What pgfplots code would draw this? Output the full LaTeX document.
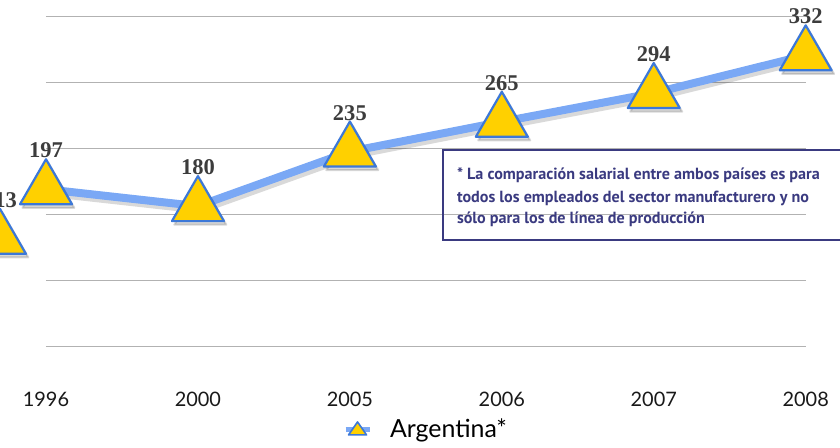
\documentclass[border=0pt]{standalone}
\usepackage{pgfplots}
\pgfplotsset{compat=1.18}
\usepackage{fontspec}
\setmainfont{Lato}
\newfontfamily\labfont{Liberation Serif}
\newfontfamily\notefont{PT Sans}
\definecolor{lineblue}{RGB}{122,168,245}
\definecolor{markblue}{RGB}{60,120,216}
\definecolor{markyellow}{RGB}{255,208,0}
\definecolor{navy}{RGB}{58,58,128}
\definecolor{labgray}{RGB}{60,60,60}
\definecolor{gridgray}{RGB}{178,178,178}
\pgfplotsset{
  shadowplot/.style={forget plot, black, opacity=0.15, line width=4bp, line join=round, xshift=1.2bp, yshift=-1.8bp,
    mark=triangle*, mark size=15bp, mark options={fill=black, draw=black, line width=1bp}},
  mainplot/.style={lineblue, line width=4bp, line join=round,
    mark=triangle*, mark size=15bp, mark options={fill=markyellow, draw=markblue, line width=1.1bp},
    nodes near coords, point meta=explicit symbolic,
    every node near coord/.style={anchor=base, yshift=15.7bp, inner sep=0pt,
      font=\labfont\bfseries\fontsize{11.3}{13}\selectfont, text=labgray}},
}
\begin{document}
\begin{tikzpicture}
\useasboundingbox (-23bp,-17.5bp) rectangle (397bp,206.5bp);
\clip (-23bp,-17.5bp) rectangle (397bp,206.5bp);
\begin{axis}[
  scale only axis, width=379.85bp, height=206.5bp,
  xmin=0, xmax=5, ymin=-28.6, ymax=387.8,
  clip=false,
  axis line style={draw=none},
  major tick length=0pt,
  xtick={0,1,2,3,4,5}, xticklabels={1996,2000,2005,2006,2007,2008},
  xticklabel style={anchor=base, yshift=3.2bp, font=\fontsize{10}{12}\selectfont, text=black!90},
  ytick={38.3,104.9,171.6,238.2,304.8,371.4}, yticklabels={{},{},{},{},{},{}},
  ymajorgrids, grid style={gridgray, line width=0.7bp},
  legend style={at={(axis description cs:0.5015,-0.041)}, anchor=center, draw=none, fill=none,
    font=\fontsize{12.5}{14}\selectfont, inner sep=0pt},
  legend image code/.code={
     \draw[lineblue, line width=2.5bp] (0bp,0bp) -- (12bp,0bp);
     \draw[markblue, fill=markyellow, line width=0.8bp] (6bp,4bp) -- (1.5bp,-2.5bp) -- (10.5bp,-2.5bp) -- cycle;
  },
]
\addplot[shadowplot] coordinates {(-0.303,147)};
\addplot[shadowplot] coordinates {(0,197) (1,180) (2,235) (3,265) (4,294) (5,332)};
\addplot[mainplot, forget plot] coordinates {(-0.303,147) [213]};
\addplot[mainplot]
  coordinates {(0,197) [197] (1,180) [180] (2,235) [235] (3,265) [265] (4,294) [294] (5,332) [332]};
\addlegendentry{\hspace{7bp}Argentina*}
\end{axis}
\draw[navy, line width=0.6bp] (198.5bp,86.5bp) rectangle (405bp,131.5bp);
\begin{scope}[every node/.style={anchor=base west, inner sep=0pt, text=navy,
    font=\notefont\bfseries\fontsize{8.1}{9}\selectfont}]
\node at (205.3bp,116.85bp) {* La comparación salarial entre ambos países es para};
\node at (205.3bp,105.15bp) {todos los empleados del sector manufacturero y no};
\node at (205.3bp,94.85bp) {sólo para los de línea de producción};
\end{scope}
\end{tikzpicture}
\end{document}
